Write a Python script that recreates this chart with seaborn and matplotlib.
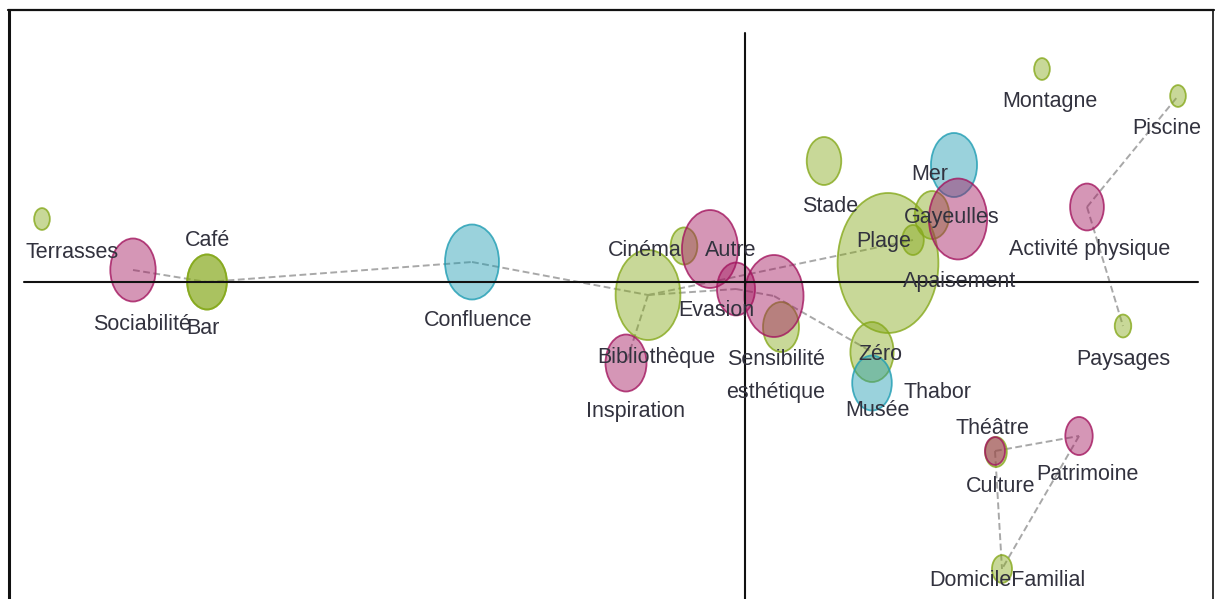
import numpy as np
import pandas as pd
import matplotlib
matplotlib.use("Agg")
import matplotlib.pyplot as plt
from matplotlib.path import Path
from matplotlib.transforms import Affine2D
from matplotlib.lines import Line2D
import seaborn as sns

# Modalités projetées sur le premier plan factoriel
modalites = ["Terrasses", "Café", "Bar", "Bibliothèque", "Cinéma", "", "Stade",
             "Plage", "Thabor", "Gayeulles", "Zéro", "Montagne", "Piscine",
             "Paysages", "Théâtre", "DomicileFamilial",
             "Confluence", "Mer", "Musée",
             "Sociabilité", "Inspiration", "Autre", "Evasion",
             "Sensibilité\nesthétique", "Apaisement", "Activité physique",
             "Culture", "Patrimoine"]
groupes = ["lieu"] * 16 + ["quartier"] * 3 + ["motivation"] * 9
dim1 = [-2.812, -2.152, -2.152, -0.388, -0.244, 0.144, 0.316,
        0.572, 0.672, 0.748, 0.508, 1.188, 1.732,
        1.512, 1.004, 1.028,
        -1.092, 0.836, 0.508,
        -2.448, -0.476, -0.140, -0.036,
        0.116, 0.852, 1.368,
        1.000, 1.336]
dim2 = [0.252, 0.000, 0.000, -0.052, 0.144, -0.180, 0.484,
        0.076, 0.168, 0.268, -0.280, 0.852, 0.744,
        -0.176, -0.680, -1.148,
        0.080, 0.468, -0.404,
        0.048, -0.324, 0.132, -0.028,
        -0.056, 0.252, 0.300,
        -0.676, -0.616]
effectifs = [19, 121, 121, 324, 55, 100, 92,
             784, 36, 92, 144, 19, 19,
             21, 36, 31,
             225, 164, 121,
             159, 130, 243, 112,
             269, 262, 88,
             31, 58]

# Associations tracées en pointillés
liens = [("Sociabilité", "Café"), ("Café", "Confluence"),
         ("Confluence", "Bibliothèque"), ("Bibliothèque", "Inspiration"),
         ("Bibliothèque", "Evasion"), ("Evasion", "Sensibilité\nesthétique"),
         ("Sensibilité\nesthétique", "Zéro"), ("Bibliothèque", "Thabor"),
         ("Activité physique", "Piscine"), ("Activité physique", "Paysages"),
         ("Culture", "Patrimoine"), ("Culture", "DomicileFamilial"),
         ("Patrimoine", "DomicileFamilial")]

# Décalage des étiquettes (pixels, x vers la droite, y vers le haut)
decalages = {
    "Terrasses": (30, -33), "Café": (1, 42), "Bar": (-4, -46),
    "Bibliothèque": (8, -63), "Cinéma": (-39, -4), "Stade": (6, -45),
    "Plage": (-4, 22), "Thabor": (24, -152), "Gayeulles": (20, -2),
    "Zéro": (8, -3), "Montagne": (8, -32), "Piscine": (-11, -33),
    "Paysages": (0, -34), "Théâtre": (-4, 24), "DomicileFamilial": (5, -12),
    "Confluence": (6, -58), "Mer": (-24, -10), "Musée": (5, -27),
    "Sociabilité": (9, -55), "Inspiration": (9, -49), "Autre": (21, -1),
    "Evasion": (-20, -22), "Sensibilité\nesthétique": (2, -80),
    "Apaisement": (2, -62), "Activité physique": (3, -43),
    "Culture": (6, -36), "Patrimoine": (8, -39),
}

df = pd.DataFrame({"modalite": modalites, "groupe": groupes,
                   "dim1": dim1, "dim2": dim2, "effectif": effectifs})

palette = {"lieu": "#86a91c", "quartier": "#1f9db3", "motivation": "#a3165f"}

sns.set_theme(style="white")
plt.rcParams["font.family"] = ["Liberation Sans", "DejaVu Sans"]

W, H = 1215, 599
fig = plt.figure(figsize=(W / 100, H / 100), dpi=100)
ax = fig.add_axes([0, 0, 1, 1])
ax.set_xlim(-2.98, 1.88)
ax.set_ylim(-1.268, 1.128)
ax.axis("off")

pos = df.set_index("modalite")[["dim1", "dim2"]]
for a, b in liens:
    ax.plot([pos.loc[a, "dim1"], pos.loc[b, "dim1"]],
            [pos.loc[a, "dim2"], pos.loc[b, "dim2"]],
            color="#a8a8a8", lw=1.4, ls=(0, (3.5, 1.8)), zorder=1)

ellipse = Path.unit_circle().transformed(Affine2D().scale(0.72, 1.0))
sns.scatterplot(data=df, x="dim1", y="dim2", hue="groupe", palette=palette,
                size="effectif", sizes=(0, 12960), size_norm=(0, 1000),
                marker=ellipse, linewidth=1.3, legend=False, ax=ax, zorder=2)
pts = ax.collections[-1]
fc = np.array(pts.get_facecolors())
ec = fc.copy()
ec[:, 3] = 0.8
fc[:, 3] = 0.45
pts.set_facecolors(fc)
pts.set_edgecolors(ec)

ax.axhline(0, xmin=24 / W, xmax=1198 / W, color="#111111", lw=1.5, zorder=3)
ax.axvline(0, ymin=0, ymax=1 - 33 / H, color="#111111", lw=1.5, zorder=3)

for _, r in df.iterrows():
    if not r["modalite"]:
        continue
    dx, dy = decalages[r["modalite"]]
    ax.annotate(r["modalite"], (r["dim1"], r["dim2"]), xytext=(dx, dy),
                textcoords="offset pixels", ha="center", va="center",
                fontsize=15.5, color="#32323e", linespacing=1.7,
                multialignment="center", zorder=4)

# Cadre
def trait(x0, y0, x1, y1, lw):
    fig.add_artist(Line2D([x0 / W, x1 / W], [1 - y0 / H, 1 - y1 / H],
                          transform=fig.transFigure, color="#111111", lw=lw))

trait(8.5, 10, 8.5, H, 2.2)
trait(8, 10, 1213.5, 10, 1.6)
trait(1213, 10, 1213, H, 1.2)

fig.savefig("out.png", dpi=100)
